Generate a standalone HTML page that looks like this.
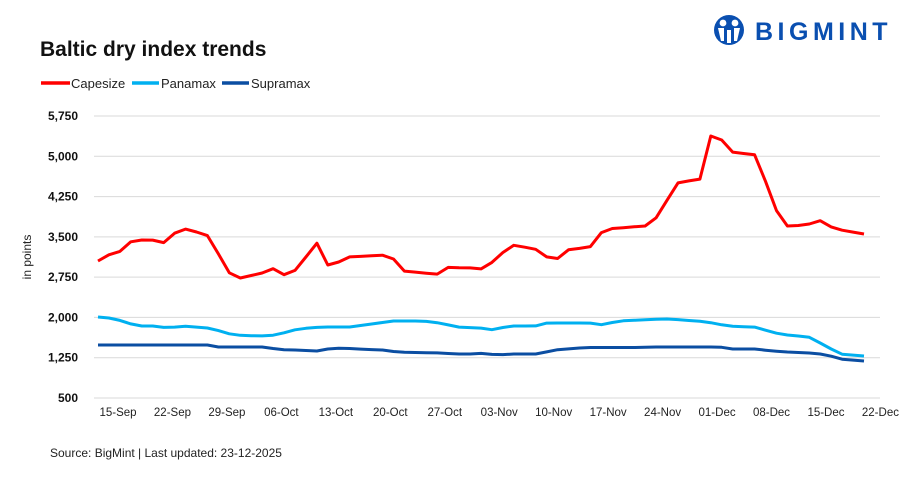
<!DOCTYPE html>
<html><head><meta charset="utf-8"><style>
body{margin:0;background:#fff;font-family:"Liberation Sans",Arial,sans-serif;}
svg text{font-family:"Liberation Sans",Arial,sans-serif;}
</style></head><body>
<svg id="chart" width="909" height="476" viewBox="0 0 909 476" xmlns="http://www.w3.org/2000/svg">
<rect width="909" height="476" fill="#fff"/>
<text x="40" y="56" font-size="21" font-weight="bold" fill="#111">Baltic dry index trends</text>
<g>
<circle cx="729" cy="30" r="15" fill="#0a4fb0"/>
<circle cx="723" cy="23" r="3.4" fill="#fff"/><circle cx="735" cy="23" r="3.4" fill="#fff"/>
<path d="M718 28 h6 v13 h-3 z M734 28 h6 l-3 13 h-3 z M727 30 h4 v13 h-4z" fill="#fff"/>
<text x="755" y="40" font-size="25" font-weight="bold" fill="#0a4fb0" letter-spacing="4.5">BIGMINT</text>
</g>
<g>
<g><line x1="41" y1="83" x2="70" y2="83" stroke="#ff0000" stroke-width="3.5"/><text x="71" y="88" font-size="13" fill="#222">Capesize</text></g>
<g><line x1="132" y1="83" x2="159" y2="83" stroke="#00b0f0" stroke-width="3.5"/><text x="161" y="88" font-size="13" fill="#222">Panamax</text></g>
<g><line x1="222" y1="83" x2="249" y2="83" stroke="#0b4ea2" stroke-width="3.5"/><text x="251" y="88" font-size="13" fill="#222">Supramax</text></g>
</g>
<text transform="translate(31,257) rotate(-90)" text-anchor="middle" font-size="12" fill="#222">in points</text>
<g id="grid"></g><g id="ylabels"></g><g id="xlabels"></g><g id="series"></g>
<text x="50" y="457" font-size="12" fill="#222">Source: BigMint | Last updated: 23-12-2025</text>
</svg>
<script>
const yTicks=[500,1250,2000,2750,3500,4250,5000,5750];
const xTickLabels=["15-Sep","22-Sep","29-Sep","06-Oct","13-Oct","20-Oct","27-Oct","03-Nov","10-Nov","17-Nov","24-Nov","01-Dec","08-Dec","15-Dec","22-Dec"];
const xTickDays=[0,7,14,21,28,35,42,49,56,63,70,77,84,91,98];
const capesize=[3050,3166,3230,3408,3442,3440,3394,3569,3645,3591,3524,3183,2830,2734,2781,2828,2908,2796,2876,3125,3382,2976,3032,3127,3137,3148,3159,3088,2863,2844,2824,2807,2932,2924,2922,2904,3025,3209,3343,3308,3269,3127,3097,3259,3286,3319,3580,3656,3671,3688,3703,3855,4181,4505,4541,4576,5378,5304,5077,5051,5027,4535,3989,3703,3712,3740,3800,3686,3624,3589,3554];
const panamax=[2008,1990,1945,1880,1841,1841,1815,1820,1837,1820,1803,1755,1695,1667,1660,1656,1669,1714,1770,1797,1814,1822,1822,1822,1850,1878,1906,1934,1934,1934,1926,1902,1861,1820,1811,1801,1772,1813,1841,1841,1843,1895,1897,1897,1897,1895,1864,1905,1938,1947,1956,1967,1971,1960,1943,1927,1901,1862,1836,1827,1820,1762,1707,1673,1654,1630,1524,1412,1316,1299,1282];
const supramax=[1487,1487,1487,1487,1487,1487,1487,1487,1487,1487,1487,1450,1450,1450,1450,1450,1422,1399,1394,1385,1375,1412,1425,1422,1410,1401,1394,1366,1353,1347,1344,1340,1329,1319,1319,1330,1312,1308,1319,1319,1319,1359,1399,1414,1431,1440,1440,1440,1440,1440,1445,1450,1450,1450,1450,1450,1450,1444,1412,1412,1412,1390,1372,1357,1347,1338,1319,1278,1222,1205,1189];
const NS="http://www.w3.org/2000/svg";
const yScale=v=>398-(v-500)*282/5250;
const xIdx=i=>98+i*(864-98)/(capesize.length-1);
const xDay=d=>118+d*7.78;
const grid=document.getElementById('grid'),yl=document.getElementById('ylabels'),xl=document.getElementById('xlabels'),ser=document.getElementById('series');
yTicks.forEach(t=>{
 const l=document.createElementNS(NS,'line');
 l.setAttribute('x1',94);l.setAttribute('x2',880);l.setAttribute('y1',yScale(t));l.setAttribute('y2',yScale(t));
 l.setAttribute('stroke','#d9d9d9');l.setAttribute('stroke-width','1');
 
 
 grid.appendChild(l);
 const tx=document.createElementNS(NS,'text');
 tx.setAttribute('x',78);tx.setAttribute('y',yScale(t)+4);tx.setAttribute('text-anchor','end');
 tx.setAttribute('font-size','12');tx.setAttribute('font-weight','bold');tx.setAttribute('fill','#111');
 tx.textContent=t.toLocaleString('en-US');
 
 
 yl.appendChild(tx);
});
xTickLabels.forEach((s,i)=>{
 const tx=document.createElementNS(NS,'text');
 tx.setAttribute('x',xDay(xTickDays[i]));tx.setAttribute('y',416);tx.setAttribute('text-anchor','middle');
 tx.setAttribute('font-size','11.5');tx.setAttribute('fill','#222');
 tx.textContent=s;
 
 
 xl.appendChild(tx);
});
function drawLine(arr,color,name){
 const p=document.createElementNS(NS,'polyline');
 p.setAttribute('points',arr.map((v,i)=>xIdx(i).toFixed(1)+','+yScale(v).toFixed(1)).join(' '));
 p.setAttribute('fill','none');p.setAttribute('stroke',color);p.setAttribute('stroke-width','3');
 p.setAttribute('stroke-linejoin','round');
 
 
 ser.appendChild(p);
}
drawLine(supramax,'#0b4ea2','supramax-line');
drawLine(panamax,'#00b0f0','panamax-line');
drawLine(capesize,'#ff0000','capesize-line');
</script>
</body></html>
